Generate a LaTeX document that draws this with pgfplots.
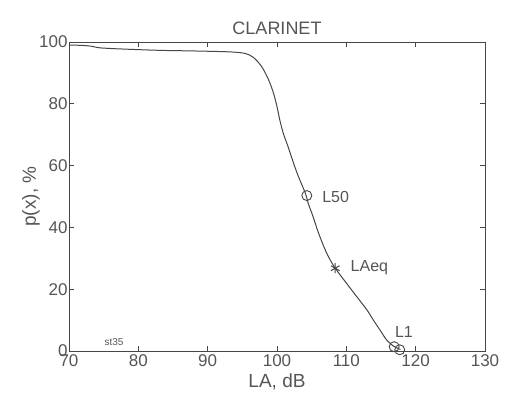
\documentclass[border=0pt]{standalone}
\usepackage{pgfplots}
\pgfplotsset{compat=1.18}
\usepackage{fontspec}
\setmainfont{Liberation Sans}
\definecolor{ink}{RGB}{85,85,85}
\definecolor{lineink}{RGB}{70,70,70}
\begin{document}
\begin{tikzpicture}
\useasboundingbox (-69pt,-43pt) rectangle (437pt,351pt);
\begin{axis}[
  scale only axis,
  width=416pt, height=309pt,
  xmin=70, xmax=130, ymin=0, ymax=100,
  xtick={70,80,...,130}, ytick={0,20,...,100},
  tick align=inside, tick pos=both,
  major tick length=5pt,
  axis line style={lineink, line width=0.9pt},
  every tick/.style={lineink, line width=0.8pt},
  tick label style={ink, font=\fontsize{17}{17}\selectfont},
  /pgf/number format/assume math mode=true,
  yticklabel style={xshift=2pt},
  title={CLARINET},
  title style={ink, font=\fontsize{18}{18}\selectfont, yshift=-2pt},
  xlabel={LA, dB}, ylabel={p(x), \%},
  label style={ink, font=\fontsize{19}{19}\selectfont},
  xlabel style={at={(axis description cs:0.5,-0.1)}, anchor=center},
  ylabel style={at={(axis description cs:-0.0913,0.5)}, anchor=center},
  clip=false,
]
\addplot[lineink, line width=1.0pt, smooth, tension=0.5] coordinates {
(70,99.0) (72,98.9) (73.3,98.6) (74.5,98.1) (78,97.7) (83.1,97.3) (88,97.1)
(93.2,96.8) (95.4,96.3) (96.6,95.0) (97.8,92.0) (98.8,87.7) (99.5,83.4)
(100.0,79.1) (100.4,74.8) (100.9,70.5) (101.6,66.1) (102.4,60.7) (103.1,56.4)
(104.1,51.0) (104.5,47.8) (105.2,43.5) (106.0,38.1) (107.2,31.5) (108.4,26.8)
(110.0,22.0) (111.5,17.6) (113.0,13.2) (113.9,10.0) (115.0,6.3) (115.8,3.6)
(116.8,1.6) (117.8,0.5)
};
\addplot[only marks, mark=o, mark size=5pt, lineink, line width=0.9pt] coordinates {(104.3,50.3) (116.9,1.4) (117.7,0.4)};
\addplot[only marks, mark=asterisk, mark size=5pt, lineink, line width=1pt] coordinates {(108.4,26.8)};
\node[ink, anchor=west, inner sep=0pt, font=\fontsize{16}{16}\selectfont] at (axis cs:106.5,50.0) {L50};
\node[ink, anchor=west, inner sep=0pt, font=\fontsize{16}{16}\selectfont] at (axis cs:110.6,26.9) {LAeq};
\node[ink, anchor=west, inner sep=0pt, font=\fontsize{16}{16}\selectfont] at (axis cs:117.0,6.3) {L1};
\node[ink, anchor=west, inner sep=0pt, font=\fontsize{10}{10}\selectfont] at (axis cs:75.1,3.0) {st35};
\end{axis}
\end{tikzpicture}
\end{document}
